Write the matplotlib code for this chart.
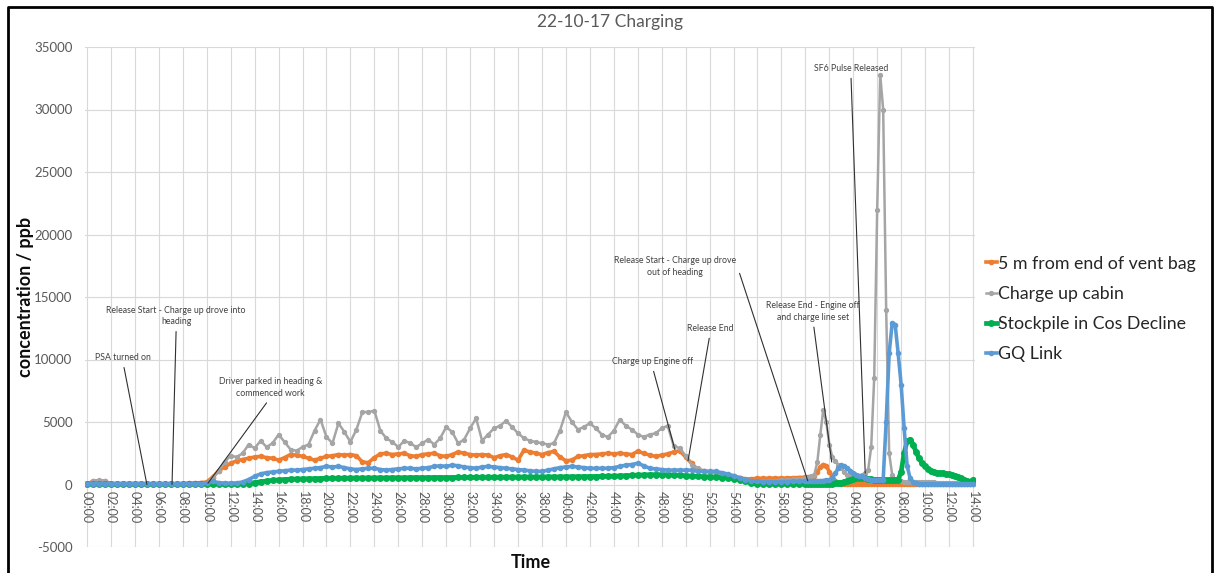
import numpy as np
import matplotlib.pyplot as plt
from matplotlib.lines import Line2D

plt.rcParams['font.family'] = ['Lato', 'DejaVu Sans']
plt.rcParams['axes.unicode_minus'] = False

# minutes since the start of logging: 30 s readings, then 15 s readings after the hour
minutes = np.concatenate([np.arange(0, 60, 0.5), np.arange(60, 74.001, 0.25)])

vent_bag = [
    50, 250, 300, 250, 60, 30, 30, 30, 30, 30,
    30, 30, 30, 30, 30, 40, 60, 100, 120, 150,
    200, 600, 1100, 1400, 1700, 1900, 2000, 2100, 2200, 2250,
    2150, 2100, 1950, 2150, 2400, 2350, 2250, 2100, 1950, 2100,
    2250, 2300, 2400, 2350, 2400, 2300, 1800, 1750, 2150, 2450,
    2500, 2400, 2450, 2500, 2300, 2250, 2400, 2450, 2500, 2300,
    2250, 2400, 2600, 2500, 2400, 2350, 2400, 2350, 2150, 2300,
    2400, 2200, 1950, 2750, 2600, 2500, 2400, 2550, 2650, 2200,
    1900, 1950, 2250, 2300, 2400, 2400, 2450, 2500, 2450, 2500,
    2450, 2400, 2650, 2500, 2350, 2250, 2350, 2450, 2600, 2700,
    2200, 1700, 1200, 1100, 1000, 950, 850, 750, 650, 550,
    450, 450, 500, 500, 500, 520, 500, 520, 540, 560,
    # after the hour
    580, 600, 620, 650, 1000, 1400, 1600, 1500, 1000, 700,
    300, 100, 80, 80, 80, 80, 80, 80, 80, 80,
    80, 80, 80, 80, 80, 80, 80, 80, 80, 80,
    80, 80, 80, 80, 80, 80, 80, 80, 80, 80,
    80, 80, 80, 80, 80, 80, 80, 80, 80, 80,
    80, 80, 80, 80, 80, 80, 80,
]

cabin = [
    50, 300, 350, 300, 60, 30, 30, 30, 30, 30,
    30, 30, 30, 30, 30, 40, 60, 80, 100, 100,
    100, 500, 1100, 1800, 2300, 2200, 2500, 3200, 2900, 3500,
    3000, 3300, 4000, 3400, 2800, 2700, 3000, 3200, 4300, 5200,
    3800, 3300, 4900, 4200, 3400, 4400, 5800, 5800, 5900, 4300,
    3700, 3400, 3000, 3500, 3300, 3000, 3300, 3600, 3200, 3700,
    4600, 4200, 3300, 3600, 4500, 5300, 3500, 4000, 4500, 4700,
    5100, 4600, 4100, 3700, 3500, 3400, 3300, 3200, 3300, 4300,
    5800, 5000, 4400, 4600, 4900, 4500, 4000, 3800, 4300, 5200,
    4700, 4400, 4000, 3800, 4000, 4100, 4500, 4700, 3100, 2900,
    2300, 1600, 1300, 1100, 1000, 900, 800, 700, 600, 450,
    350, 300, 280, 280, 300, 320, 350, 380, 420, 480,
    # after the hour
    500, 550, 650, 800, 1800, 4000, 6000, 5000, 3200, 2200,
    1900, 1600, 1300, 1000, 800, 700, 650, 650, 700, 750,
    900, 1200, 3000, 8500, 22000, 32800, 30000, 14000, 2500, 800,
    400, 300, 250, 200, 200, 200, 200, 200, 200, 200,
    180, 180, 180, 180, 150, 150, 150, 150, 150, 150,
    150, 150, 150, 150, 150, 150, 150,
]

stockpile = [
    30, 30, 30, 30, 30, 30, 30, 30, 30, 30,
    30, 30, 30, 30, 30, 30, 30, 30, 30, 30,
    30, 30, 30, 30, 30, 30, 50, 80, 150, 220,
    280, 330, 370, 400, 420, 440, 450, 460, 470, 480,
    490, 500, 500, 510, 510, 520, 520, 520, 530, 530,
    530, 540, 540, 540, 550, 550, 550, 550, 560, 560,
    560, 560, 570, 570, 570, 570, 580, 580, 580, 580,
    590, 590, 590, 600, 600, 600, 600, 610, 610, 610,
    620, 620, 630, 630, 640, 640, 650, 660, 670, 690,
    710, 730, 750, 770, 780, 790, 790, 780, 760, 740,
    700, 680, 650, 630, 610, 590, 560, 530, 480, 380,
    250, 120, 60, 40, 40, 40, 40, 40, 40, 40,
    # after the hour
    40, 40, 40, 40, 40, 40, 45, 50, 60, 70,
    90, 120, 160, 220, 300, 380, 450, 520, 560, 540,
    500, 450, 420, 390, 370, 370, 370, 370, 370, 370,
    370, 400, 1000, 2500, 3500, 3600, 3200, 2600, 2100, 1700,
    1450, 1250, 1100, 1000, 950, 920, 900, 850, 820, 780,
    720, 620, 500, 400, 300, 240, 370,
]

gq_link = [
    70, 70, 70, 70, 70, 70, 70, 70, 70, 70,
    60, 60, 60, 60, 60, 60, 60, 60, 60, 60,
    120, 250, 150, 100, 100, 120, 200, 400, 650, 850,
    950, 1000, 1050, 1100, 1150, 1150, 1200, 1250, 1300, 1350,
    1450, 1400, 1450, 1350, 1250, 1200, 1250, 1300, 1300, 1200,
    1150, 1200, 1250, 1300, 1300, 1250, 1300, 1350, 1450, 1500,
    1450, 1550, 1500, 1400, 1350, 1300, 1400, 1450, 1400, 1350,
    1300, 1250, 1200, 1150, 1100, 1050, 1050, 1150, 1250, 1350,
    1400, 1450, 1400, 1350, 1300, 1300, 1300, 1300, 1350, 1450,
    1550, 1600, 1700, 1500, 1300, 1250, 1200, 1150, 1150, 1150,
    1150, 1150, 1050, 1050, 1050, 1050, 950, 850, 700, 550,
    400, 300, 250, 230, 230, 230, 230, 240, 250, 250,
    # after the hour
    280, 300, 300, 300, 300, 300, 320, 340, 370, 500,
    900, 1300, 1550, 1450, 1300, 1100, 900, 800, 700, 650,
    550, 450, 380, 370, 370, 380, 400, 5000, 10500, 12900,
    12800, 10500, 8000, 4500, 1500, 500, 200, 100, 60, 50,
    50, 50, 50, 50, 50, 50, 50, 50, 50, 50,
    50, 50, 50, 50, 50, 50, 50,
]

series_names = ['5 m from end of vent bag', 'Charge up cabin',
                'Stockpile in Cos Decline', 'GQ Link']
series_colors = ['#ED7D31', '#A5A5A5', '#00B050', '#5B9BD5']

tick_minutes = np.arange(0, 75, 2)
tick_labels = [f"{m % 60:02d}:00" for m in tick_minutes]

W, H = 1215, 573
fig = plt.figure(figsize=(W / 100, H / 100), dpi=100)
ax = fig.add_axes([85 / W, 1 - 547 / H, 890 / W, 500 / H])

styles = [dict(lw=2.6, ms=3.0), dict(lw=1.8, ms=2.8),
          dict(lw=3.4, ms=4.0), dict(lw=2.6, ms=3.0)]
handles = []
for values, name, color, st in zip([vent_bag, cabin, stockpile, gq_link],
                                   series_names, series_colors, styles):
    line, = ax.plot(minutes, values, color=color, marker='o',
                    lw=st['lw'], ms=st['ms'], mec=color, label=name, zorder=3)
    handles.append(line)

ax.set_xlim(-0.17, 74.17)
ax.set_ylim(-5000, 35000)
ax.set_yticks(np.arange(-5000, 35001, 5000))
ax.set_xticks(tick_minutes)
ax.set_xticklabels(tick_labels)
ax.tick_params(axis='y', length=0, pad=9, labelsize=9.5, labelcolor='#595959')
ax.tick_params(axis='x', length=0, pad=5, labelsize=9, labelcolor='#595959',
               labelrotation=270)
ax.grid(True, color='#D9D9D9', lw=0.8, zorder=0)
ax.set_axisbelow(True)

for side in ['top', 'right', 'left']:
    ax.spines[side].set_visible(False)
ax.spines['bottom'].set_position(('data', 0))
ax.spines['bottom'].set_color('#D9D9D9')

# event notes with leader lines
notes = [
    ('PSA turned on', (3.0, 10160), (5.0, 0), (0.5, 0)),
    ('Release Start - Charge up drove into\nheading', (7.45, 13500), (7.1, 0), (0.5, 0)),
    ('Driver parked in heading &\ncommenced work', (15.3, 7750), (10.1, 100), (0.5, 0)),
    ('Charge up Engine off', (47.2, 9850), (49.1, 2800), (0.5, 0)),
    ('Release End', (52.05, 12500), (50.2, 1900), (0.5, 0)),
    ('Release Start - Charge up drove\nout of heading', (49.1, 17450), (60.2, 300), (1.0, 0.7)),
    ('Release End - Engine off\nand charge line set', (60.65, 13850), (62.2, 1800), (0.5, 0)),
    ('SF6 Pulse Released', (63.8, 33300), (65.0, 900), (0.5, 0)),
]
for text, xytext, xy, rel in notes:
    ax.annotate(text, xy=xy, xytext=xytext, ha='center', va='center',
                fontsize=6.3, color='#404040', linespacing=1.35, zorder=5,
                arrowprops=dict(arrowstyle='-', color='#303030', lw=0.8,
                                relpos=rel, shrinkA=2, shrinkB=0))

fig.text(610 / W, 1 - 22 / H, '22-10-17 Charging', ha='center', va='center',
         fontsize=12.5, color='#595959')
fig.text(26 / W, 1 - 297 / H, 'concentration / ppb', ha='center', va='center',
         rotation=90, fontsize=13, fontweight='bold', color='#0D0D0D')
fig.text(531 / W, 1 - 562 / H, 'Time', ha='center', va='center',
         fontsize=13, fontweight='bold', color='#0D0D0D')

fig.legend(handles, series_names, loc='center left',
           bbox_to_anchor=(986 / W, 1 - 309 / H), frameon=False,
           fontsize=12.8, handlelength=0.6, handletextpad=0.1,
           labelspacing=0.8, borderpad=0, borderaxespad=0,
           labelcolor='#262626')

# outer frame
fig.add_artist(Line2D([8 / W, 8 / W, 1212 / W, 1212 / W],
                      [0, 1 - 7 / H, 1 - 7 / H, 0],
                      transform=fig.transFigure, color='black', lw=2))

fig.savefig('out.png', dpi=100)
